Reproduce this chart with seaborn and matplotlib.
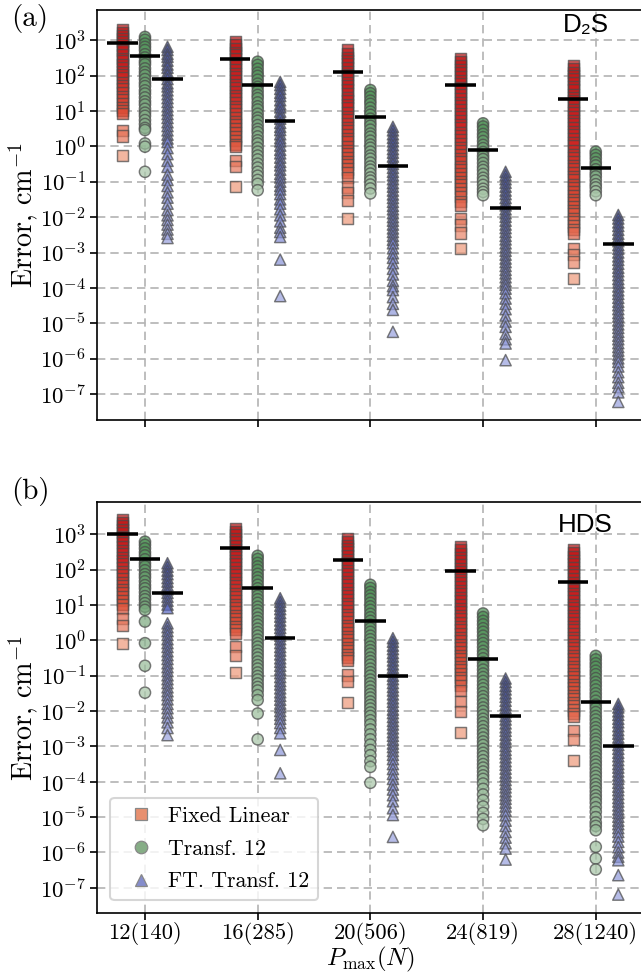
import numpy as np
import pandas as pd
import matplotlib
matplotlib.use("Agg")
import matplotlib.pyplot as plt
import seaborn as sns
from matplotlib.lines import Line2D
from matplotlib.ticker import FixedLocator, NullLocator, LogFormatterMathtext

plt.rcParams["font.family"] = "serif"
plt.rcParams["font.serif"] = ["cmr10", "DejaVu Serif"]
plt.rcParams["mathtext.fontset"] = "cm"
plt.rcParams["axes.formatter.use_mathtext"] = True

categories = ["12(140)", "16(285)", "20(506)", "24(819)", "28(1240)"]
methods = ["Fixed Linear", "Transf. 12", "FT. Transf. 12"]

# log10 of the error (cm^-1), one list per P_max group
# ---- panel (a): D2S ----
a_fixed = [
    [3.30, 3.22, 3.12, 3.05, 2.97, 2.86, 2.78, 2.70, 2.58, 2.49, 2.41, 2.30, 2.21, 2.12, 2.02, 1.93, 1.81, 1.72,
     1.63, 1.52, 1.41, 1.33, 1.22, 1.10, 1.01, 0.92, 0.44, 0.29, -0.25],
    [2.95, 2.86, 2.77, 2.66, 2.58, 2.47, 2.36, 2.28, 2.17, 2.06, 1.97, 1.86, 1.75, 1.66, 1.55, 1.44, 1.35, 1.24,
     1.13, 1.03, 0.92, 0.81, 0.71, 0.60, 0.50, 0.38, 0.27, 0.17, 0.06, -0.01, -0.39, -0.58, -1.14],
    [2.72, 2.63, 2.52, 2.42, 2.33, 2.22, 2.11, 2.02, 1.90, 1.80, 1.71, 1.59, 1.48, 1.39, 1.28, 1.17, 1.08, 0.96,
     0.85, 0.76, 0.64, 0.53, 0.44, 0.32, 0.21, 0.12, 0.00, -0.11, -0.20, -0.32, -0.43, -0.52, -0.64, -0.75, -0.87,
     -1.15, -1.30, -1.52, -2.03],
    [2.48, 2.39, 2.28, 2.18, 2.09, 1.98, 1.87, 1.78, 1.66, 1.56, 1.47, 1.35, 1.24, 1.15, 1.04, 0.93, 0.84, 0.72,
     0.61, 0.52, 0.40, 0.29, 0.20, 0.08, -0.03, -0.12, -0.24, -0.35, -0.44, -0.56, -0.67, -0.76, -0.88, -0.99,
     -1.08, -1.20, -1.31, -1.42, -1.55, -1.66, -2.03, -2.22, -2.45, -2.88],
    [2.29, 2.20, 2.09, 1.99, 1.90, 1.79, 1.68, 1.59, 1.47, 1.37, 1.28, 1.16, 1.05, 0.96, 0.85, 0.74, 0.65, 0.53,
     0.42, 0.33, 0.21, 0.10, 0.01, -0.11, -0.22, -0.31, -0.43, -0.54, -0.63, -0.75, -0.86, -0.95, -1.07, -1.18,
     -1.27, -1.39, -1.50, -1.59, -1.71, -1.82, -1.91, -2.03, -2.14, -2.25, -2.35, -2.45, -2.88, -3.05, -3.27, -3.73],
]
a_transf = [
    [3.09, 3.01, 2.90, 2.81, 2.72, 2.60, 2.51, 2.40, 2.32, 2.20, 2.10, 2.01, 1.90, 1.79, 1.70, 1.58, 1.49, 1.38,
     1.27, 1.18, 1.06, 0.95, 0.86, 0.74, 0.63, 0.52, 0.46, 0.08, -0.01, -0.72],
    [2.39, 2.30, 2.19, 2.08, 1.99, 1.88, 1.77, 1.68, 1.56, 1.45, 1.36, 1.24, 1.13, 1.04, 0.92, 0.81, 0.72, 0.60,
     0.49, 0.40, 0.28, 0.17, 0.08, -0.04, -0.15, -0.26, -0.37, -0.49, -0.60, -0.72, -0.83, -0.95, -1.06, -1.24],
    [1.59, 1.50, 1.40, 1.29, 1.20, 1.09, 0.98, 0.89, 0.78, 0.67, 0.58, 0.47, 0.36, 0.27, 0.16, 0.05, -0.04, -0.15,
     -0.26, -0.35, -0.46, -0.57, -0.66, -0.77, -0.88, -0.97, -1.08, -1.19, -1.33],
    [0.65, 0.56, 0.46, 0.35, 0.26, 0.15, 0.04, -0.05, -0.16, -0.27, -0.36, -0.47, -0.58, -0.67, -0.78, -0.89,
     -0.98, -1.09, -1.20, -1.29, -1.38],
    [-0.15, -0.24, -0.34, -0.45, -0.54, -0.65, -0.76, -0.85, -0.96, -1.07, -1.16, -1.27, -1.38],
]
a_ft = [
    [2.81, 2.72, 2.61, 2.53, 2.42, 2.31, 2.22, 2.10, 2.01, 1.90, 1.78, 1.69, 1.58, 1.47, 1.36, 1.25, 1.13, 1.02,
     0.91, 0.80, 0.68, 0.57, 0.45, 0.33, 0.22, 0.12, -0.05, -0.22, -0.41, -0.58, -0.80, -0.95, -1.12, -1.30, -1.45,
     -1.62, -1.80, -1.95, -2.08, -2.21, -2.35, -2.47, -2.59],
    [1.82, 1.73, 1.62, 1.51, 1.42, 1.30, 1.19, 1.10, 0.98, 0.87, 0.78, 0.66, 0.55, 0.46, 0.34, 0.23, 0.14, 0.02,
     -0.10, -0.20, -0.32, -0.44, -0.54, -0.66, -0.78, -0.88, -1.00, -1.12, -1.22, -1.35, -1.50, -1.62, -1.78, -1.95,
     -2.12, -2.30, -2.42, -2.56, -3.20, -4.23],
    [0.55, 0.45, 0.34, 0.24, 0.14, 0.03, -0.08, -0.18, -0.29, -0.40, -0.50, -0.61, -0.72, -0.82, -0.93, -1.04,
     -1.14, -1.25, -1.36, -1.46, -1.57, -1.68, -1.78, -1.89, -2.00, -2.10, -2.21, -2.32, -2.42, -2.53, -2.64, -2.74,
     -2.88, -3.02, -3.15, -3.30, -3.46, -3.62, -3.80, -3.95, -4.06, -4.26, -4.45, -4.62, -5.24],
    [-0.72, -0.82, -0.93, -1.03, -1.14, -1.25, -1.35, -1.46, -1.57, -1.67, -1.78, -1.89, -1.99, -2.10, -2.21, -2.31,
     -2.42, -2.53, -2.63, -2.74, -2.85, -2.95, -3.06, -3.17, -3.27, -3.38, -3.49, -3.59, -3.70, -3.81, -3.91, -4.02,
     -4.15, -4.30, -4.45, -4.60, -4.78, -4.95, -5.10, -5.30, -5.45, -5.57, -6.04],
    [-1.94, -2.04, -2.15, -2.25, -2.36, -2.47, -2.57, -2.68, -2.79, -2.89, -3.00, -3.11, -3.21, -3.32, -3.43, -3.53,
     -3.64, -3.75, -3.85, -3.96, -4.07, -4.17, -4.28, -4.39, -4.49, -4.60, -4.71, -4.81, -4.92, -5.03, -5.13, -5.24,
     -5.35, -5.45, -5.56, -5.67, -5.77, -5.88, -5.99, -6.09, -6.22, -6.38, -6.52, -6.68, -6.80, -6.95, -7.22],
]
# mean error per group (log10), black bars
a_means = [
    [2.91, 2.48, 2.11, 1.73, 1.33],
    [2.56, 1.73, 0.83, -0.11, -0.60],
    [1.90, 0.72, -0.56, -1.75, -2.77],
]

# ---- panel (b): HDS ----
b_fixed = [
    [3.41, 3.33, 3.23, 3.14, 3.05, 2.94, 2.85, 2.76, 2.65, 2.55, 2.46, 2.35, 2.25, 2.16, 2.05, 1.95, 1.86, 1.75,
     1.64, 1.55, 1.44, 1.34, 1.24, 1.13, 1.02, 0.91, 0.62, 0.41, -0.08],
    [3.17, 3.08, 2.98, 2.87, 2.78, 2.67, 2.57, 2.47, 2.36, 2.26, 2.17, 2.06, 1.95, 1.86, 1.75, 1.64, 1.55, 1.44,
     1.33, 1.24, 1.13, 1.02, 0.93, 0.82, 0.71, 0.62, 0.51, 0.40, 0.31, 0.20, -0.18, -0.42, -0.91],
    [2.89, 2.80, 2.69, 2.59, 2.50, 2.39, 2.28, 2.19, 2.08, 1.97, 1.88, 1.77, 1.66, 1.57, 1.46, 1.35, 1.26, 1.15,
     1.04, 0.95, 0.84, 0.73, 0.64, 0.53, 0.42, 0.33, 0.22, 0.11, 0.02, -0.09, -0.20, -0.29, -0.40, -0.49, -0.56,
     -0.98, -1.17, -1.76],
    [2.65, 2.56, 2.45, 2.35, 2.26, 2.15, 2.04, 1.95, 1.84, 1.73, 1.64, 1.53, 1.42, 1.33, 1.22, 1.11, 1.02, 0.91,
     0.80, 0.71, 0.60, 0.49, 0.40, 0.29, 0.18, 0.09, -0.02, -0.13, -0.22, -0.33, -0.44, -0.53, -0.64, -0.75, -0.84,
     -0.95, -1.06, -1.15, -1.27, -1.41, -1.74, -2.02, -2.60],
    [2.56, 2.47, 2.36, 2.26, 2.17, 2.06, 1.95, 1.86, 1.75, 1.64, 1.55, 1.44, 1.33, 1.24, 1.13, 1.02, 0.93, 0.82,
     0.71, 0.62, 0.51, 0.40, 0.31, 0.20, 0.09, 0.00, -0.11, -0.22, -0.31, -0.42, -0.53, -0.62, -0.73, -0.84, -0.93,
     -1.04, -1.15, -1.24, -1.35, -1.46, -1.55, -1.66, -1.77, -1.86, -1.97, -2.07, -2.16, -2.54, -2.80, -3.39],
]
b_transf = [
    [2.79, 2.70, 2.60, 2.49, 2.40, 2.29, 2.18, 2.09, 1.98, 1.87, 1.78, 1.67, 1.56, 1.47, 1.36, 1.25, 1.16, 1.05,
     0.95, 0.86, 0.53, -0.08, -0.72, -1.48],
    [2.39, 2.30, 2.19, 2.09, 1.99, 1.88, 1.78, 1.68, 1.57, 1.47, 1.37, 1.26, 1.16, 1.06, 0.95, 0.85, 0.75, 0.64,
     0.54, 0.44, 0.33, 0.23, 0.13, 0.02, -0.08, -0.18, -0.29, -0.39, -0.49, -0.60, -0.70, -0.80, -0.91, -1.01,
     -1.11, -1.22, -1.32, -1.42, -1.55, -1.69, -2.07, -2.80],
    [1.57, 1.48, 1.37, 1.27, 1.17, 1.06, 0.96, 0.86, 0.75, 0.65, 0.55, 0.44, 0.34, 0.24, 0.13, 0.03, -0.07, -0.18,
     -0.28, -0.38, -0.49, -0.59, -0.69, -0.80, -0.90, -1.00, -1.11, -1.21, -1.31, -1.42, -1.52, -1.62, -1.73, -1.83,
     -1.93, -2.04, -2.14, -2.26, -2.38, -2.52, -2.66, -2.80, -2.95, -3.10, -3.25, -3.42, -3.58, -4.03],
    [0.76, 0.66, 0.55, 0.45, 0.34, 0.24, 0.13, 0.02, -0.08, -0.19, -0.30, -0.40, -0.51, -0.62, -0.72, -0.83,
     -0.94, -1.04, -1.15, -1.26, -1.36, -1.47, -1.58, -1.68, -1.79, -1.90, -2.00, -2.11, -2.22, -2.32, -2.43, -2.54,
     -2.64, -2.75, -2.86, -2.96, -3.07, -3.18, -3.28, -3.39, -3.50, -3.60, -3.71, -3.82, -3.92, -4.05, -4.20, -4.36,
     -4.52, -4.70, -4.88, -5.05, -5.23],
    [-0.44, -0.54, -0.65, -0.75, -0.86, -0.96, -1.07, -1.18, -1.28, -1.39, -1.50, -1.60, -1.71, -1.82, -1.92, -2.03,
     -2.14, -2.24, -2.35, -2.46, -2.56, -2.67, -2.78, -2.88, -2.99, -3.10, -3.20, -3.31, -3.42, -3.52, -3.63, -3.74,
     -3.84, -3.95, -4.06, -4.16, -4.27, -4.38, -4.48, -4.59, -4.72, -4.85, -5.00, -5.15, -5.25, -5.37, -5.84, -6.17,
     -6.48],
]
b_ft = [
    [2.18, 2.08, 1.97, 1.87, 1.76, 1.66, 1.55, 1.44, 1.34, 1.23, 1.12, 1.01, 0.91, 0.48, 0.37, 0.26, 0.15, 0.03,
     -0.08, -0.19, -0.31, -0.42, -0.53, -0.65, -0.76, -0.87, -0.99, -1.10, -1.21, -1.33, -1.44, -1.55, -1.67, -1.80,
     -1.92, -2.05, -2.18, -2.32, -2.48, -2.68],
    [1.19, 1.09, 0.98, 0.88, 0.77, 0.67, 0.56, 0.45, 0.35, 0.24, 0.13, 0.03, -0.08, -0.19, -0.29, -0.40, -0.51,
     -0.61, -0.72, -0.83, -0.93, -1.04, -1.15, -1.25, -1.36, -1.47, -1.57, -1.68, -1.79, -1.89, -2.00, -2.11, -2.22,
     -2.34, -2.48, -2.63, -3.10, -3.76],
    [0.06, -0.04, -0.15, -0.25, -0.36, -0.46, -0.57, -0.68, -0.78, -0.89, -1.00, -1.10, -1.21, -1.32, -1.42, -1.53,
     -1.64, -1.74, -1.85, -1.96, -2.06, -2.17, -2.28, -2.38, -2.49, -2.60, -2.70, -2.81, -2.92, -3.02, -3.13, -3.24,
     -3.36, -3.50, -3.64, -3.78, -3.92, -4.08, -4.22, -4.38, -4.55, -4.75, -4.94, -5.56],
    [-1.08, -1.18, -1.29, -1.39, -1.50, -1.60, -1.71, -1.82, -1.92, -2.03, -2.14, -2.24, -2.35, -2.46, -2.56, -2.67,
     -2.78, -2.88, -2.99, -3.10, -3.20, -3.31, -3.42, -3.52, -3.63, -3.74, -3.84, -3.95, -4.06, -4.16, -4.27, -4.38,
     -4.48, -4.59, -4.70, -4.82, -4.95, -5.10, -5.25, -5.42, -5.58, -5.74, -5.89, -6.20],
    [-1.80, -1.90, -2.01, -2.11, -2.22, -2.32, -2.43, -2.54, -2.64, -2.75, -2.86, -2.96, -3.07, -3.18, -3.28, -3.39,
     -3.50, -3.60, -3.71, -3.82, -3.92, -4.03, -4.14, -4.24, -4.35, -4.46, -4.56, -4.67, -4.78, -4.88, -4.99, -5.10,
     -5.20, -5.31, -5.42, -5.55, -5.70, -5.85, -6.00, -6.12, -6.22, -6.64, -7.19],
]
b_means = [
    [3.00, 2.62, 2.27, 1.97, 1.64],
    [2.29, 1.49, 0.56, -0.52, -1.74],
    [1.35, 0.06, -1.00, -2.13, -2.98],
]

# long table for seaborn
rows = []
for panel, cols in (("a", [a_fixed, a_transf, a_ft]), ("b", [b_fixed, b_transf, b_ft])):
    for m, groups in zip(methods, cols):
        for g, vals in enumerate(groups):
            for v in vals:
                rows.append((panel, m, g, v))
df = pd.DataFrame(rows, columns=["panel", "method", "group", "log_err"])
df["err"] = 10.0 ** df["log_err"]
# colour shade within each column (bigger error -> darker)
grp = df.groupby(["panel", "method", "group"])["log_err"]
df["shade"] = (df["log_err"] - grp.transform("min")) / (grp.transform("max") - grp.transform("min"))

offset = {"Fixed Linear": -0.2, "Transf. 12": 0.0, "FT. Transf. 12": 0.2}
df["x"] = df["group"] + df["method"].map(offset)

markers = {"Fixed Linear": "s", "Transf. 12": "o", "FT. Transf. 12": "^"}
cmaps = {
    "Fixed Linear": sns.blend_palette(["#ee9a7c", "#dc4a32", "#cc1c1c", "#c41616"], as_cmap=True),
    "Transf. 12": sns.blend_palette(["#a8c6a8", "#7aa87e", "#4e9256"], as_cmap=True),
    "FT. Transf. 12": sns.blend_palette(["#9aa2de", "#6e7acb", "#4352b2"], as_cmap=True),
}
legend_colors = {"Fixed Linear": "#e8906f", "Transf. 12": "#86ad86", "FT. Transf. 12": "#858dcc"}

fig = plt.figure(figsize=(641 / 150, 974 / 150), dpi=150)
ax_a = fig.add_axes([0.1518, 0.5688, 0.852, 0.4209])
ax_b = fig.add_axes([0.1518, 0.0623, 0.852, 0.4226])

for ax, panel, means, ylim in ((ax_a, "a", a_means, (10 ** -7.73, 10 ** 3.85)),
                               (ax_b, "b", b_means, (10 ** -7.72, 10 ** 3.92))):
    ax.set_yscale("log")
    for m in methods:
        sub = df[(df["panel"] == panel) & (df["method"] == m)]
        sns.scatterplot(data=sub, x="x", y="err", hue="shade", hue_norm=(0, 1), palette=cmaps[m],
                        marker=markers[m], s=29, edgecolor="#4a4a4a", linewidth=0.7, alpha=0.72,
                        legend=False, ax=ax, zorder=3)
    for k, m in enumerate(methods):
        xs = np.arange(len(categories)) + offset[m]
        ax.hlines(10.0 ** np.array(means[k]), xs - 0.135, xs + 0.135, color="black", lw=1.7, zorder=5)

    ax.set_xlim(-0.423, 4.423)
    ax.set_ylim(*ylim)
    ax.yaxis.set_major_locator(FixedLocator(10.0 ** np.arange(-7, 4)))
    ax.yaxis.set_major_formatter(LogFormatterMathtext())
    ax.yaxis.set_minor_locator(NullLocator())
    ax.set_xticks(range(len(categories)))
    ax.grid(True, which="major", ls="--", color="#b3b3b3", lw=0.8, dashes=(5, 3))
    ax.set_axisbelow(True)
    ax.tick_params(labelsize=11, direction="out", length=3.5, width=0.8, pad=2)
    ax.tick_params(axis="x", pad=0.5, labelsize=10.8)
    for sp in ax.spines.values():
        sp.set_linewidth(0.8)
    ax.set_ylabel("Error, cm$^{-1}$", fontsize=13.5)
    ax.yaxis.set_label_coords(-0.103, 0.5)

ax_a.set_xticklabels([])
ax_a.set_xlabel("")
ax_b.set_xticklabels(categories)
ax_b.set_xlabel("$P_{\\max}(N)$", fontsize=12)
ax_b.xaxis.set_label_coords(0.5, -0.077)

ax_a.text(0.894, 0.963, "D\u2082S", transform=ax_a.transAxes, ha="center", va="center",
          fontsize=12.5, family=["Liberation Sans", "DejaVu Sans"])
ax_b.text(0.894, 0.943, "HDS", transform=ax_b.transAxes, ha="center", va="center",
          fontsize=12.5, family=["Liberation Sans", "DejaVu Sans"])
fig.text(0.018, 0.9815, "(a)", fontsize=14, va="center")
fig.text(0.018, 0.4949, "(b)", fontsize=14, va="center")

handles = [Line2D([], [], ls="", marker=markers[m], markersize=6, markerfacecolor=legend_colors[m],
                  markeredgecolor="#888888", markeredgewidth=0.6) for m in methods]
ax_b.legend(handles, methods, loc="lower left", fontsize=10.5, framealpha=0.8, handletextpad=0.25,
            borderaxespad=0.6, labelspacing=0.6)

fig.savefig("out.png", dpi=150)
